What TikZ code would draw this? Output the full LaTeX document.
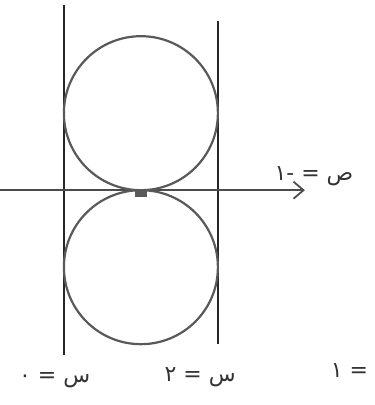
\documentclass[tikz,border=0pt]{standalone}
\usepackage{fontspec}
\newfontfamily\arabicfont[Script=Arabic]{DejaVu Sans}
\TeXXeTstate=1
\usetikzlibrary{arrows.meta}
\tikzset{
  wall/.style={line width=2pt,draw=black!85},
  ball/.style={line width=2.2pt,draw=black!65},
  lab/.style={font=\arabicfont\fontsize{22}{24}\selectfont,text=black!80,inner sep=1pt}
}
\begin{document}
\begin{tikzpicture}[x=77pt,y=77pt]
  \def\r{1}
  \def\xmin{-1.83}
  \def\xmax{2.13}
  \useasboundingbox (-1.83,-2.79) rectangle (3.04,2.47);
  % walls
  \draw[wall] (-1,2.4)--(-1,-2.14);
  \draw[wall] (1,2.2)--(1,-2.0);
  % axis
  \coordinate (start) at (\xmin,0);
  \coordinate (end) at (\xmax,0);
  \draw[line width=1.8pt,draw=black!70,-{Straight Barb[length=10pt,width=17pt,line width=1.8pt]}] (start)--(end);
  \node[lab,above right] at (1.72,0.04) {\beginR ص = -١\endR};
  % balls
  \draw[ball] (0,\r) circle (\r);
  \draw[ball] (0,-\r) circle (\r);
  \fill[black!65] (-0.08,0)rectangle(0.08,-0.09);
  % labels
  \node[lab] at (-1.12,-2.47) {\beginR س = ٠\endR};
  \node[lab] at (0.77,-2.43) {\beginR س = ٢\endR};
  \node[lab] at (2.71,-2.34) {\beginR = ١\endR};
\end{tikzpicture}
\end{document}
